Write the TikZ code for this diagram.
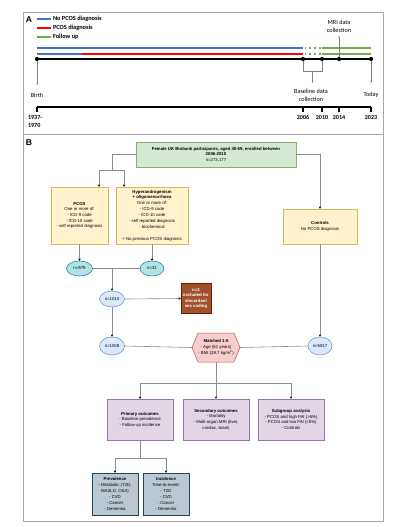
\documentclass[tikz,border=0pt]{standalone}
\usepackage{fontspec}
\setmainfont{Liberation Sans}
\newfontfamily\calfont{Carlito}
\usetikzlibrary{arrows.meta,calc,shapes.geometric}
\definecolor{frame}{HTML}{A6A6A6}
\definecolor{calgray}{HTML}{7F7F7F}
\definecolor{tlblue}{HTML}{4472C4}
\definecolor{tlred}{HTML}{FF0000}
\definecolor{tlgreen}{HTML}{70AD47}
\definecolor{gfill}{HTML}{D5E8D4}\definecolor{gdraw}{HTML}{82B366}
\definecolor{yfill}{HTML}{FFF2CC}\definecolor{ydraw}{HTML}{D6B656}
\definecolor{cfill}{HTML}{B0E3E6}\definecolor{cdraw}{HTML}{0E8088}
\definecolor{bfill}{HTML}{DAE8FC}\definecolor{bdraw}{HTML}{6C8EBF}
\definecolor{brfill}{HTML}{A0522D}\definecolor{brdraw}{HTML}{6D1F00}
\definecolor{pfill}{HTML}{F8CECC}\definecolor{pdraw}{HTML}{B85450}
\definecolor{ufill}{HTML}{E1D5E7}\definecolor{udraw}{HTML}{9673A6}
\definecolor{sfill}{HTML}{BAC8D3}\definecolor{sdraw}{HTML}{23445D}
\definecolor{conn}{HTML}{8C8C8C}
\begin{document}
\begin{tikzpicture}[x=1pt,y=-1pt,
  every node/.style={inner sep=0pt, outer sep=0pt},
  lbl/.style={font=\calfont\fontsize{6.2}{7.8}\selectfont, align=center},
  yr/.style={font=\calfont\bfseries\fontsize{6.1}{8.6}\selectfont},
  leg/.style={font=\calfont\bfseries\fontsize{6.3}{7}\selectfont, anchor=west},
  callout/.style={draw=calgray, line width=0.45pt, -{Stealth[length=1.6pt,width=1.5pt]}},
  tl/.style={line width=1.8pt},
  dotn/.style={circle, fill=black, minimum size=4.2pt},
  panel/.style={font=\bfseries\fontsize{8.5}{9}\selectfont},
  box/.style={draw, line width=0.5pt, align=center, font=\fontsize{4.3}{5.6}\selectfont},
  greenbox/.style={box, fill=gfill, draw=gdraw},
  yellowbox/.style={box, fill=yfill, draw=ydraw},
  cyanell/.style={box, ellipse, fill=cfill, draw=cdraw},
  blueell/.style={box, ellipse, fill=bfill, draw=bdraw},
  brownbox/.style={box, fill=brfill, draw=brdraw, text=white, font=\bfseries\fontsize{4.3}{5.6}\selectfont},
  purplebox/.style={box, fill=ufill, draw=udraw},
  slatebox/.style={box, fill=sfill, draw=sdraw},
  ln/.style={draw=conn, line width=0.6pt},
  arr/.style={ln, -{Stealth[length=2.6pt,width=2.3pt,black]}}
]
\useasboundingbox[fill=white] (0,0) rectangle (404,527);
% frame
\draw[frame, line width=0.8pt] (23,12) rectangle (383,521);
\draw[frame, line width=0.8pt] (23,134) -- (383,134);

% ---------------- Panel A ----------------
\node[panel] (pa) at (29,19.5) {A};
\draw[tlblue, tl] (37,19) -- (51,19);
\draw[tlred, tl] (37,28) -- (51,28);
\draw[tlgreen, tl] (37,37) -- (51,37);
\node[leg] (lg1) at (53,19) {No PCOS diagnosis};
\node[leg] (lg2) at (53,28) {PCOS diagnosis};
\node[leg] (lg3) at (53,37) {Follow up};

% bars
\draw[tlblue, tl] (37,48) -- (303,48);
\draw[tlgreen, tl, dash pattern=on 1.6pt off 3.2pt] (304.5,48) -- (321,48);
\draw[tlgreen, tl] (322,48) -- (371,48);
\draw[tlblue, tl] (37,54) -- (82,54);
\draw[tlred, tl] (82,54) -- (303,54);
\draw[tlgreen, tl, dash pattern=on 1.6pt off 3.2pt] (304.5,54) -- (321,54);
\draw[tlgreen, tl] (322,54) -- (371,54);

% timeline with dots
\node[dotn] (d0) at (37,59) {};
\node[dotn] (d1) at (303,59) {};
\node[dotn] (d2) at (322,59) {};
\node[dotn] (d3) at (339,59) {};
\node[dotn] (d4) at (371,59) {};
\draw[line width=1.3pt] (d0.center) -- (d4.center);

% callouts
\coordinate (cb) at (37,85);
\draw[callout] (d0) -- (cb);
\node[lbl] (tb) at (37,95) {Birth};
\coordinate (br1) at (303,71);
\coordinate (br2) at (322,71);
\coordinate (brm) at (312.5,71);
\coordinate (brt) at (312.5,83);
\draw[draw=calgray, line width=0.45pt] (d1) -- (br1) -- (br2) -- (d2);
\draw[callout] (brm) -- (brt);
\node[lbl] (tbase) at (311,95) {Baseline data\\collection};
\coordinate (cm) at (339,36);
\draw[callout] (d3) -- (cm);
\node[lbl] (tmri) at (339,26) {MRI data\\collection};
\coordinate (ct) at (371,83);
\draw[callout] (d4) -- (ct);
\node[lbl] (ttoday) at (371,95) {Today};

% axis
\coordinate (ax0) at (37,107);
\coordinate (ax4) at (371,107);
\draw[line width=1.3pt] (ax0) -- (ax4);
\foreach \xx in {37,303,322,339,371}{\draw[line width=1.1pt] (\xx,106.5) -- (\xx,112);}
\node[yr, anchor=west, align=left] (y0) at (28,121.5) {1937-\\1970};
\node[yr] (y1) at (303,117.5) {2006};
\node[yr] (y2) at (322,117.5) {2010};
\node[yr] (y3) at (339,117.5) {2014};
\node[yr] (y4) at (371,117.5) {2023};

% ---------------- Panel B ----------------
\node[panel] (pb) at (29,142.5) {B};

\node[greenbox, minimum width=160pt, minimum height=25pt] (top) at (216,154.5)
  {\textbf{Female UK Biobank participants, aged 40-69, enrolled between}\\\textbf{2006-2010}\\n=273,177};
\node[yellowbox, minimum width=57pt, minimum height=57pt] (pcos) at (79.5,215.5)
  {\textbf{PCOS}\\One or more of:\\- ICD-9 code\\- ICD-10 code\\- self reported diagnosis};
\node[yellowbox, minimum width=72pt, minimum height=57pt, font=\fontsize{4.3}{5.9}\selectfont] (hyper) at (152,215.5)
  {\textbf{Hyperandrogenism}\\\textbf{+ oligomenorrhoea}\\One or more of:\\- ICD-9 code\\- ICD-10 code\\- self reported diagnosis\\- biochemical\\[5.9pt]+ No previous PCOS diagnosis};
\node[yellowbox, minimum width=74pt, minimum height=35pt] (controls) at (320,226.5)
  {\textbf{Controls}\\No PCOS diagnosis};

\node[cyanell, minimum width=26pt, minimum height=15pt] (e979) at (79.5,268.5) {n=979};
\node[cyanell, minimum width=24pt, minimum height=15pt] (e31) at (152,268.5) {n=31};
\node[blueell, minimum width=25pt, minimum height=16pt] (e1010) at (112,299) {n=1010};
\node[brownbox, minimum width=30pt, minimum height=30pt] (excl) at (196,298.5)
  {n=2\\excluded for\\discordant\\sex coding};
\node[blueell, minimum width=25pt, minimum height=18pt] (e1008) at (112,346) {n=1008};
\node[blueell, minimum width=24pt, minimum height=18pt] (e5017) at (320,346) {n=5017};

% hexagon
\node[minimum width=48pt, minimum height=29pt] (hex) at (216,347.5) {};
\draw[fill=pfill, draw=pdraw, line width=0.5pt] (hex.west) -- ([xshift=6pt]hex.north west) -- ([xshift=-6pt]hex.north east) -- (hex.east) -- ([xshift=-6pt]hex.south east) -- ([xshift=6pt]hex.south west) -- cycle;
\node[align=center, font=\fontsize{4.3}{6}\selectfont] (hext) at (hex.center) {\textbf{Matched 1:5}\\- Age (61 years)\\- BMI (28.7 kg/m\textsuperscript{2})};

\node[purplebox, minimum width=66pt, minimum height=41pt] (prim) at (140,419.5)
  {\textbf{Primary outcomes}\\- Baseline prevalence\\- Follow-up incidence};
\node[purplebox, minimum width=66pt, minimum height=41pt] (sec) at (216,419.5)
  {\textbf{Secondary outcomes}\\- Mortality\\- Multi-organ MRI (liver,\\cardiac, brain)};
\node[purplebox, minimum width=66pt, minimum height=41pt] (sub) at (291,419.5)
  {\textbf{Subgroup analysis}\\- PCOS and high FAI (>5\%)\\- PCOS and low FAI (<5\%)\\- Controls};

\node[slatebox, minimum width=46pt, minimum height=42pt, font=\fontsize{4.3}{6}\selectfont] (prev) at (115,494)
  {\textbf{Prevalence}\\- Metabolic (T2D,\\MASLD, OSA)\\- CVD\\- Cancer\\- Dementia};
\node[slatebox, minimum width=46pt, minimum height=42pt, font=\fontsize{4.3}{6}\selectfont] (inc) at (166,494)
  {\textbf{Incidence}\\Time-to-event:\\- T2D\\- CVD\\- Cancer\\- Dementia};

% connectors
\coordinate (j1) at (112,170);
\draw[ln] (top.west) -| (j1);
\draw[arr] (j1) -| ([xshift=-9pt]pcos.north east);
\draw[arr] (j1) -| ([xshift=8pt]hyper.north west);
\draw[arr] (top.east) -| (controls.north);
\draw[arr] (pcos.south) -- (e979.north);
\draw[arr] (hyper.south) -- (e31.north);
\draw[ln] (e979.east) -- (e31.west);
\coordinate (j2) at (112,268.5);
\draw[arr] (j2) -- (e1010.north);
\draw[arr] (e1010.east) -- (excl.west);
\draw[arr] (e1010.south) -- (e1008.north);
\draw[ln] (e1008.east) -- (hex.west);
\draw[ln] (hex.east) -- (e5017.west);
\draw[arr] (controls.south) -- (e5017.north);
\coordinate (j3) at (216,383);
\draw[ln] (hex.south) -- (j3);
\draw[arr] (j3) -| (prim.north);
\draw[arr] (j3) -- (sec.north);
\draw[arr] (j3) -| (sub.north);
\coordinate (j4) at (140,458);
\draw[ln] (prim.south) -- (j4);
\draw[arr] (j4) -| (prev.north);
\draw[arr] (j4) -| (inc.north);
\end{tikzpicture}
\end{document}
